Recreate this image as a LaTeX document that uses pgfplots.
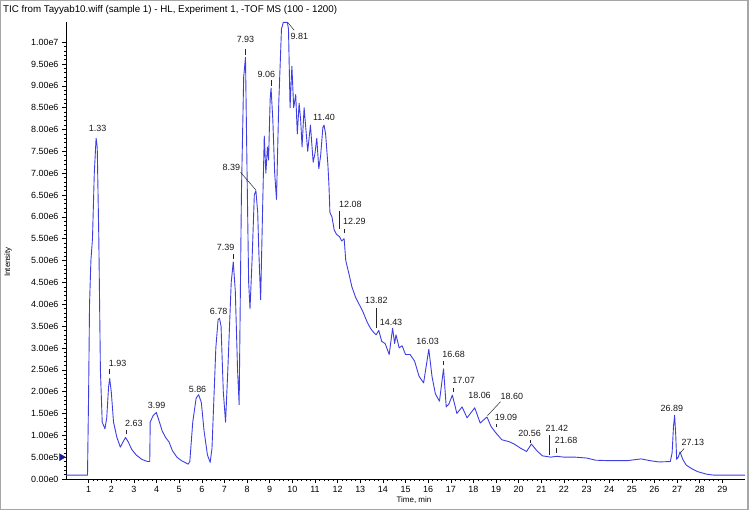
\documentclass[border=0pt]{standalone}
\usepackage{fontspec}
\setmainfont{Liberation Sans}
\usepackage{pgfplots}
\pgfplotsset{compat=1.18}
\definecolor{trace}{RGB}{62,62,228}
\definecolor{arrowblue}{RGB}{20,30,150}
\begin{document}
\begin{tikzpicture}
\useasboundingbox (0bp,0bp) rectangle (750bp,511bp);
\draw[black!35, line width=1.2bp] (0.6bp,1.5bp) rectangle (748bp,510.4bp);
\node[anchor=west, font=\fontsize{9.8}{11}\selectfont, inner sep=0] at (3bp,501bp) {TIC from Tayyab10.wiff (sample 1) - HL, Experiment 1, -TOF MS (100 - 1200)};
\begin{axis}[at={(66bp,32bp)}, anchor=south west, scale only axis,
  width=679bp, height=457bp,
  xmin=0, xmax=30, ymin=0, ymax=1.046e7,
  axis lines=left, axis line style={-, black, line width=0.6bp},
  xtick={1,...,29}, minor x tick num=4,
  ytick={0,5e5,1e6,1.5e6,2e6,2.5e6,3e6,3.5e6,4e6,4.5e6,5e6,5.5e6,6e6,6.5e6,7e6,7.5e6,8e6,8.5e6,9e6,9.5e6,1e7},
  yticklabels={0.00e0,5.00e5,1.00e6,1.50e6,2.00e6,2.50e6,3.00e6,3.50e6,4.00e6,4.50e6,5.00e6,5.50e6,6.00e6,6.50e6,7.00e6,7.50e6,8.00e6,8.50e6,9.00e6,9.50e6,1.00e7},
  minor y tick num=4,
  scaled y ticks=false,
  tick align=outside, major tick length=4bp, minor tick length=2bp,
  tick style={black, line width=0.5bp},
  ticklabel style={font=\fontsize{9}{10}\selectfont},
  /pgf/number format/assume math mode=true,
  xlabel={Time, min}, ylabel={Intensity},
  xlabel style={at={(rel axis cs:0.5125,-0.046)}, anchor=center, font=\fontsize{8}{9}\selectfont},
  ylabel style={at={(rel axis cs:-0.0854,0.475)}, anchor=center, font=\fontsize{8}{9}\selectfont},
  clip=false,
]
\addplot[trace, line width=0.9bp, line join=round] coordinates {
(0,0.09e6) (0.95,0.09e6) (1.00,2.0e6) (1.04,4.0e6) (1.10,5.0e6) (1.17,5.5e6) (1.25,7.0e6)
(1.33,7.8e6) (1.38,7.6e6) (1.45,5.5e6) (1.52,2.5e6) (1.60,1.3e6) (1.72,1.15e6) (1.80,1.4e6)
(1.88,2.1e6) (1.93,2.3e6) (2.00,2.0e6) (2.10,1.3e6) (2.25,0.95e6) (2.40,0.73e6) (2.52,0.85e6)
(2.63,0.95e6) (2.75,0.85e6) (2.90,0.68e6) (3.10,0.55e6) (3.35,0.45e6) (3.60,0.40e6) (3.70,0.40e6)
(3.72,1.3e6) (3.85,1.45e6) (3.99,1.52e6) (4.10,1.35e6) (4.25,1.1e6) (4.40,0.95e6) (4.55,0.85e6)
(4.70,0.65e6) (4.90,0.5e6) (5.10,0.42e6) (5.40,0.34e6) (5.47,0.4e6) (5.60,1.3e6) (5.75,1.85e6)
(5.86,1.93e6) (5.98,1.75e6) (6.10,1.1e6) (6.25,0.55e6) (6.37,0.38e6) (6.45,0.7e6) (6.62,3.0e6)
(6.72,3.65e6) (6.78,3.68e6) (6.85,3.5e6) (6.95,2.0e6) (7.05,1.3e6) (7.15,2.5e6) (7.30,4.5e6)
(7.39,4.97e6) (7.48,4.3e6) (7.58,2.5e6) (7.65,1.7e6) (7.75,6.5e6) (7.85,9.2e6) (7.93,9.65e6)
(8.00,7.0e6) (8.07,4.5e6) (8.13,3.9e6) (8.22,5.0e6) (8.32,6.5e6) (8.39,6.6e6) (8.47,6.1e6)
(8.52,5.2e6) (8.60,4.1e6) (8.70,6.5e6) (8.76,7.85e6) (8.83,7.0e6) (8.90,7.6e6) (8.95,7.3e6)
(9.02,8.7e6) (9.06,8.95e6) (9.14,8.2e6) (9.22,7.0e6) (9.30,6.4e6) (9.40,8.6e6) (9.52,1.03e7)
(9.60,1.045e7) (9.78,1.045e7) (9.83,1.03e7) (9.90,8.5e6) (9.98,9.45e6) (10.06,8.5e6) (10.15,8.8e6) (10.22,7.9e6)
(10.30,8.6e6) (10.37,8.2e6) (10.43,7.6e6) (10.52,8.5e6) (10.60,8.0e6) (10.68,7.5e6) (10.80,8.1e6)
(10.92,7.25e6) (11.00,7.45e6) (11.08,7.8e6) (11.17,7.1e6) (11.25,7.4e6) (11.35,8.05e6) (11.40,8.1e6)
(11.47,7.9e6) (11.57,7.2e6) (11.62,6.7e6) (11.66,6.1e6) (11.75,6.0e6) (11.85,5.7e6) (11.95,5.6e6)
(12.08,5.55e6) (12.18,5.45e6) (12.29,5.5e6) (12.36,5.0e6) (12.50,4.7e6) (12.63,4.4e6) (12.80,4.15e6)
(12.95,4.0e6) (13.10,3.85e6) (13.30,3.6e6) (13.45,3.45e6) (13.60,3.35e6) (13.70,3.3e6) (13.82,3.4e6)
(13.95,3.15e6) (14.10,3.1e6) (14.28,2.85e6) (14.43,3.45e6) (14.52,3.1e6) (14.58,3.3e6) (14.72,3.0e6)
(14.85,3.05e6) (15.00,2.85e6) (15.20,2.85e6) (15.40,2.7e6) (15.60,2.35e6) (15.80,2.2e6) (16.03,2.97e6)
(16.17,2.35e6) (16.32,1.95e6) (16.50,1.78e6) (16.68,2.52e6) (16.80,1.65e6) (16.92,1.72e6) (17.07,1.92e6)
(17.27,1.5e6) (17.50,1.65e6) (17.72,1.4e6) (18.06,1.63e6) (18.30,1.28e6) (18.60,1.42e6) (18.78,1.2e6)
(19.00,1.05e6) (19.09,1.0e6) (19.25,0.9e6) (19.60,0.85e6) (19.80,0.8e6) (20.10,0.7e6) (20.35,0.63e6)
(20.56,0.8e6) (20.80,0.65e6) (21.05,0.53e6) (21.42,0.5e6) (21.68,0.52e6) (22.00,0.5e6) (22.50,0.5e6)
(23.00,0.48e6) (23.40,0.43e6) (24.00,0.42e6) (24.80,0.42e6) (25.40,0.46e6) (25.80,0.42e6) (26.20,0.39e6)
(26.70,0.40e6) (26.78,0.6e6) (26.84,1.2e6) (26.89,1.46e6) (26.94,1.0e6) (26.98,0.45e6) (27.05,0.5e6)
(27.13,0.62e6) (27.25,0.45e6) (27.40,0.32e6) (27.60,0.25e6) (27.90,0.17e6) (28.30,0.11e6) (28.60,0.09e6)
(30.00,0.09e6)
};
\addplot[arrowblue, mark=triangle*, mark size=4bp, mark options={rotate=-90, fill=arrowblue, draw=arrowblue}, only marks] coordinates {(-0.2,5e5)};
\begin{scope}[every node/.style={font=\fontsize{9}{10}\selectfont, inner sep=0, text=black!90}]
\node at (axis cs:1.40,8.02e6) {1.33};
\node at (axis cs:2.28,2.65e6) {1.93};
\node at (axis cs:3.00,1.28e6) {2.63};
\node at (axis cs:4.00,1.69e6) {3.99};
\node at (axis cs:5.81,2.06e6) {5.86};
\node at (axis cs:6.74,3.84e6) {6.78};
\node at (axis cs:7.05,5.29e6) {7.39};
\node at (axis cs:7.93,1.005e7) {7.93};
\node at (axis cs:7.31,7.14e6) {8.39};
\node at (axis cs:8.85,9.27e6) {9.06};
\node at (axis cs:10.31,1.014e7) {9.81};
\node at (axis cs:11.40,8.27e6) {11.40};
\node at (axis cs:12.56,6.29e6) {12.08};
\node at (axis cs:12.74,5.90e6) {12.29};
\node at (axis cs:13.71,4.08e6) {13.82};
\node at (axis cs:14.36,3.59e6) {14.43};
\node at (axis cs:15.98,3.14e6) {16.03};
\node at (axis cs:17.13,2.86e6) {16.68};
\node at (axis cs:17.57,2.25e6) {17.07};
\node at (axis cs:18.27,1.91e6) {18.06};
\node at (axis cs:19.70,1.88e6) {18.60};
\node at (axis cs:19.44,1.40e6) {19.09};
\node at (axis cs:20.48,1.05e6) {20.56};
\node at (axis cs:21.69,1.16e6) {21.42};
\node at (axis cs:22.10,0.88e6) {21.68};
\node at (axis cs:26.77,1.62e6) {26.89};
\node at (axis cs:27.70,0.83e6) {27.13};
\end{scope}
\begin{scope}[black!85, line width=0.5bp]
\draw (axis cs:1.93,2.40e6) -- (axis cs:1.93,2.52e6);
\draw (axis cs:2.66,1.02e6) -- (axis cs:2.66,1.13e6);
\draw (axis cs:7.39,5.03e6) -- (axis cs:7.39,5.16e6);
\draw (axis cs:7.93,9.70e6) -- (axis cs:7.93,9.85e6);
\draw (axis cs:7.71,7.02e6) -- (axis cs:8.38,6.62e6);
\draw (axis cs:9.06,9.00e6) -- (axis cs:9.06,9.13e6);
\draw (axis cs:9.80,1.045e7) -- (axis cs:10.08,1.027e7);
\draw (axis cs:12.09,6.14e6) -- (axis cs:12.09,5.72e6);
\draw (axis cs:12.30,5.72e6) -- (axis cs:12.30,5.62e6);
\draw (axis cs:13.71,3.91e6) -- (axis cs:13.71,3.45e6);
\draw (axis cs:16.68,2.62e6) -- (axis cs:16.68,2.70e6);
\draw (axis cs:17.10,1.98e6) -- (axis cs:17.10,2.08e6);
\draw (axis cs:19.20,1.77e6) -- (axis cs:18.62,1.45e6);
\draw (axis cs:19.02,1.18e6) -- (axis cs:19.02,1.26e6);
\draw (axis cs:20.51,0.82e6) -- (axis cs:20.51,0.90e6);
\draw (axis cs:21.37,1.00e6) -- (axis cs:21.37,0.55e6);
\draw (axis cs:21.66,0.70e6) -- (axis cs:21.66,0.60e6);
\draw (axis cs:27.31,0.70e6) -- (axis cs:27.15,0.60e6);
\end{scope}
\end{axis}
\end{tikzpicture}
\end{document}
